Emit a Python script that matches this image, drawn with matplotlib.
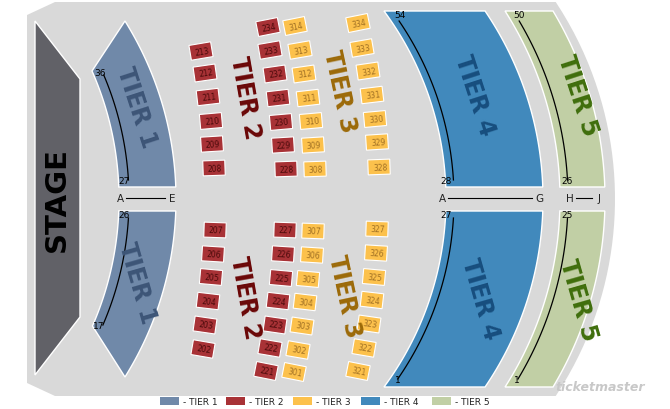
import numpy as np
import matplotlib.pyplot as plt
from matplotlib.patches import Polygon, Rectangle
from matplotlib.transforms import Affine2D

# ── Section boxes (label, centre x, centre y in chart pixels) ──
tier2_labels = ["213", "212", "211", "210", "209", "208",
                "234", "233", "232", "231", "230", "229", "228",
                "207", "206", "205", "204", "203", "202",
                "227", "226", "225", "224", "223", "222", "221"]
tier2_x = [201, 205, 208, 211, 212, 214,
           268, 270, 275, 278, 281, 283, 286,
           215, 213, 211, 208, 205, 203,
           285, 283, 281, 278, 275, 270, 266]
tier2_y = [52, 74, 98, 122, 145, 169,
           28, 51, 75, 99, 123, 146, 170,
           231, 255, 278, 302, 326, 350,
           231, 255, 279, 302, 326, 349, 372]

tier3_labels = ["314", "313", "312", "311", "310", "309", "308",
                "334", "333", "332", "331", "330", "329", "328",
                "307", "306", "305", "304", "303", "302", "301",
                "327", "326", "325", "324", "323", "322", "321"]
tier3_x = [295, 300, 304, 308, 311, 313, 315,
           358, 362, 368, 372, 375, 377, 379,
           313, 312, 308, 305, 302, 298, 294,
           377, 376, 374, 372, 369, 364, 358]
tier3_y = [27, 51, 75, 99, 122, 146, 170,
           24, 49, 72, 96, 120, 143, 168,
           232, 256, 280, 303, 327, 351, 373,
           230, 254, 278, 301, 325, 349, 372]

legend_names = ["- TIER 1", "- TIER 2", "- TIER 3", "- TIER 4", "- TIER 5"]
legend_x = [160, 226, 293, 361, 432]

COL = {
    "floor": "#d9d9d9", "stage": "#616167",
    "t1": "#7089a9", "t2": "#a83236", "t3": "#fcc14c", "t4": "#4189bc", "t5": "#c1cfa5",
    "t1_txt": "#3d5577", "t2_txt": "#6a0606", "t3_txt": "#9c6a08",
    "t4_txt": "#174e7e", "t5_txt": "#3f6e0c",
}
legend_colors = [COL["t1"], COL["t2"], COL["t3"], COL["t4"], COL["t5"]]

fig = plt.figure(figsize=(6.7, 4.1), dpi=100)
ax = fig.add_axes([0, 0, 1, 1])
ax.set_xlim(0, 670)
ax.set_ylim(410, 0)
ax.axis("off")


def arc(cx, r, y0, y1, n=40):
    ys = np.linspace(y0, y1, n)
    xs = cx + np.sqrt(r ** 2 - (ys - 200) ** 2)
    return list(zip(xs, ys))


# floor
floor = [(55, 3), (555, 3)] + arc(258, 357, 3, 397) + [(555, 397), (55, 397), (27, 384), (27, 16)]
ax.add_patch(Polygon(floor, closed=True, fc=COL["floor"], ec="none"))

# stage
ax.add_patch(Polygon([(35, 22), (80, 80), (80, 318), (35, 376)], closed=True,
                     fc=COL["stage"], ec="white", lw=1))
ax.text(57, 200, "STAGE", rotation=90, ha="center", va="center", fontsize=21,
        fontweight="bold", color="black")

# curved tiers
shapes = [
    (arc(-198, 317, 72, 188) + arc(-160, 336, 188, 22), COL["t1"]),
    (arc(-198, 317, 212, 327) + arc(-160, 336, 378, 212), COL["t1"]),
    (arc(130, 316, 12, 188) + arc(209, 334, 188, 12), COL["t4"]),
    (arc(130, 316, 212, 388) + arc(209, 334, 388, 212), COL["t4"]),
    (arc(211, 349, 12, 188) + arc(239, 366, 188, 12), COL["t5"]),
    (arc(211, 349, 212, 388) + arc(239, 366, 388, 212), COL["t5"]),
]
for pts, c in shapes:
    ax.add_patch(Polygon(pts, closed=True, fc=c, ec="white", lw=1))

# row lines
for cx, r, y0, y1 in [(-188, 317, 76, 181), (-188, 317, 219, 326),
                      (138, 316, 22, 181), (138, 316, 219, 380),
                      (219, 349, 22, 181), (219, 349, 219, 380)]:
    p = np.array(arc(cx, r, y0, y1))
    ax.plot(p[:, 0], p[:, 1], color="black", lw=0.9)

row_labels = [("36", 100, 74), ("27", 124, 182), ("26", 124, 216), ("17", 99, 327),
              ("54", 400, 16), ("28", 446, 182), ("27", 446, 216), ("1", 398, 381),
              ("50", 519, 16), ("26", 567, 182), ("25", 567, 216), ("1", 517, 381)]
for t, x, y in row_labels:
    ax.text(x, y, t, fontsize=6.5, ha="center", va="center", color="black")

# aisles
for a, b, xa, xb in [("A", "E", 120, 172), ("A", "G", 442, 539), ("H", "J", 570, 599)]:
    ax.text(xa, 199, a, fontsize=7.5, ha="center", va="center", color="#222222")
    ax.text(xb, 199, b, fontsize=7.5, ha="center", va="center", color="#222222")
    ax.plot([xa + 6, xb - 7], [199, 199], color="black", lw=0.8)


def box(label, x, y, fc, tc):
    ang = (200 - y) * 0.065
    tr = Affine2D().rotate_deg_around(x, y, -ang) + ax.transData
    ax.add_patch(Rectangle((x - 11, y - 7.5), 22, 15, fc=fc, ec="white", lw=0.8, transform=tr))
    ax.text(x + 1, y, label, fontsize=5.5, ha="center", va="center", color=tc, rotation=ang)


for lb, x, y in zip(tier2_labels, tier2_x, tier2_y):
    box(lb, x, y, COL["t2"], "#4a0a0a")
for lb, x, y in zip(tier3_labels, tier3_x, tier3_y):
    box(lb, x, y, COL["t3"], "#a07024")

# tier names
names = [("TIER 1", 137, 108, -72, COL["t1_txt"]), ("TIER 1", 137, 283, -74, COL["t1_txt"]),
         ("TIER 2", 245, 98, -80, COL["t2_txt"]), ("TIER 2", 245, 298, -80, COL["t2_txt"]),
         ("TIER 3", 340, 92, -78, COL["t3_txt"]), ("TIER 3", 345, 297, -78, COL["t3_txt"]),
         ("TIER 4", 475, 96, -72, COL["t4_txt"]), ("TIER 4", 480, 299, -74, COL["t4_txt"]),
         ("TIER 5", 578, 96, -72, COL["t5_txt"]), ("TIER 5", 578, 300, -74, COL["t5_txt"])]
for t, x, y, rot, c in names:
    ax.text(x, y, t, rotation=rot, ha="center", va="center", fontsize=17, color=c,
            fontweight="semibold", rotation_mode="anchor")

ax.text(600, 388, "ticketmaster", fontsize=9, style="italic", fontweight="bold",
        color="#c8c8c8", ha="center", va="center")

# legend
for name, x, c in zip(legend_names, legend_x, legend_colors):
    ax.add_patch(Rectangle((x, 398), 19, 8, fc=c, ec="none"))
    ax.text(x + 23, 402.5, name, fontsize=6.5, ha="left", va="center", color="#222222")

fig.savefig("out.png", dpi=100)
